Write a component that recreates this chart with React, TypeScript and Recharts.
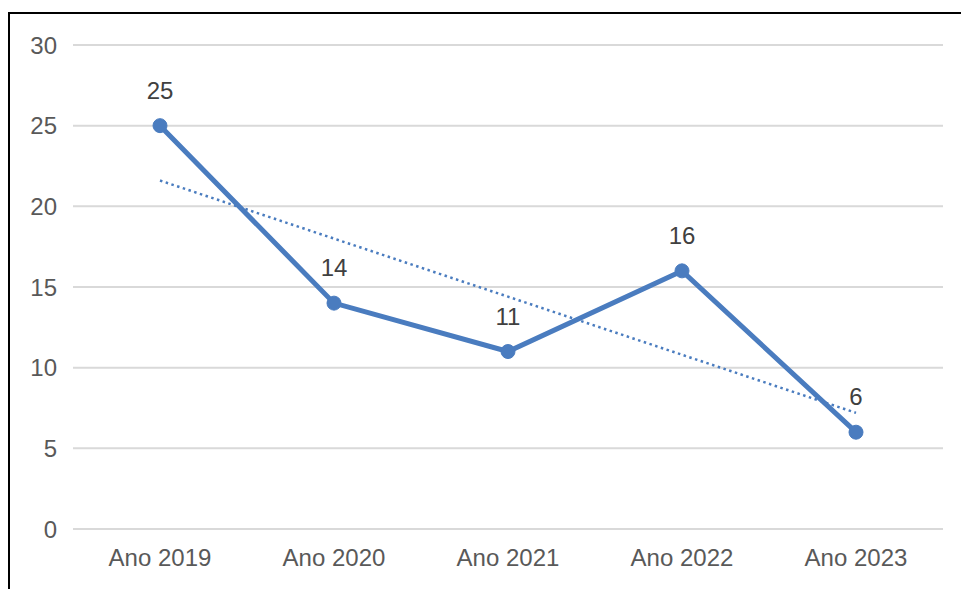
import React from 'react';
import { LineChart, Line, XAxis, YAxis, CartesianGrid, LabelList } from 'recharts';

const categories = ['Ano 2019', 'Ano 2020', 'Ano 2021', 'Ano 2022', 'Ano 2023'];
const values = [25, 14, 11, 16, 6];
// linear trend
const trend = [21.6, 18.0, 14.4, 10.8, 7.2];
const yTicks = [0, 5, 10, 15, 20, 25, 30];

const BLUE = '#4A7CBF';
const TEXT = '#595959';
const FONT = '"Liberation Sans", Arial, sans-serif';

const chartData = categories.map((name, i) => ({ name, value: values[i], trend: trend[i] }));

const App: React.FC = () => {
  return (
    <div style={{ position: 'fixed', left: 0, top: 0, width: 961, height: 589, overflow: 'hidden', background: '#fff' }}>
      {/* frame, only left and top edges fall inside the picture */}
      <div
        style={{
          position: 'absolute',
          left: 8,
          top: 12,
          width: 1000,
          height: 700,
          borderLeft: '2px solid #000',
          borderTop: '2px solid #000',
          boxSizing: 'border-box',
        }}
      />
      <div style={{ position: 'absolute', left: 0, top: 0 }}>
        <LineChart
          width={961}
          height={589}
          data={chartData}
          margin={{ top: 45, right: 18, bottom: 30, left: 13 }}
          style={{ fontFamily: FONT }}
        >
          <CartesianGrid vertical={false} stroke="#D9D9D9" strokeWidth={2} />
          <XAxis
            dataKey="name"
            axisLine={false}
            tickLine={false}
            tickSize={0}
            tickMargin={20}
            height={30}
            padding={{ left: 87, right: 87 }}
            tick={{ fill: TEXT, fontSize: 24, fontFamily: FONT }}
          />
          <YAxis
            domain={[0, 30]}
            ticks={yTicks}
            axisLine={false}
            tickLine={false}
            tickSize={0}
            tickMargin={16}
            width={60}
            tick={{ fill: TEXT, fontSize: 24, fontFamily: FONT }}
          />
          <Line
            dataKey="trend"
            stroke={BLUE}
            strokeWidth={2.5}
            strokeDasharray="2.5 3.5"
            dot={false}
            activeDot={false}
            isAnimationActive={false}
          />
          <Line
            dataKey="value"
            stroke={BLUE}
            strokeWidth={5}
            dot={{ r: 7, fill: BLUE, stroke: BLUE, strokeWidth: 1 }}
            activeDot={false}
            isAnimationActive={false}
          >
            <LabelList
              dataKey="value"
              position="top"
              offset={27}
              fill="#404040"
              fontSize={24}
              fontFamily={FONT}
            />
          </Line>
        </LineChart>
      </div>
    </div>
  );
};

export default App;
